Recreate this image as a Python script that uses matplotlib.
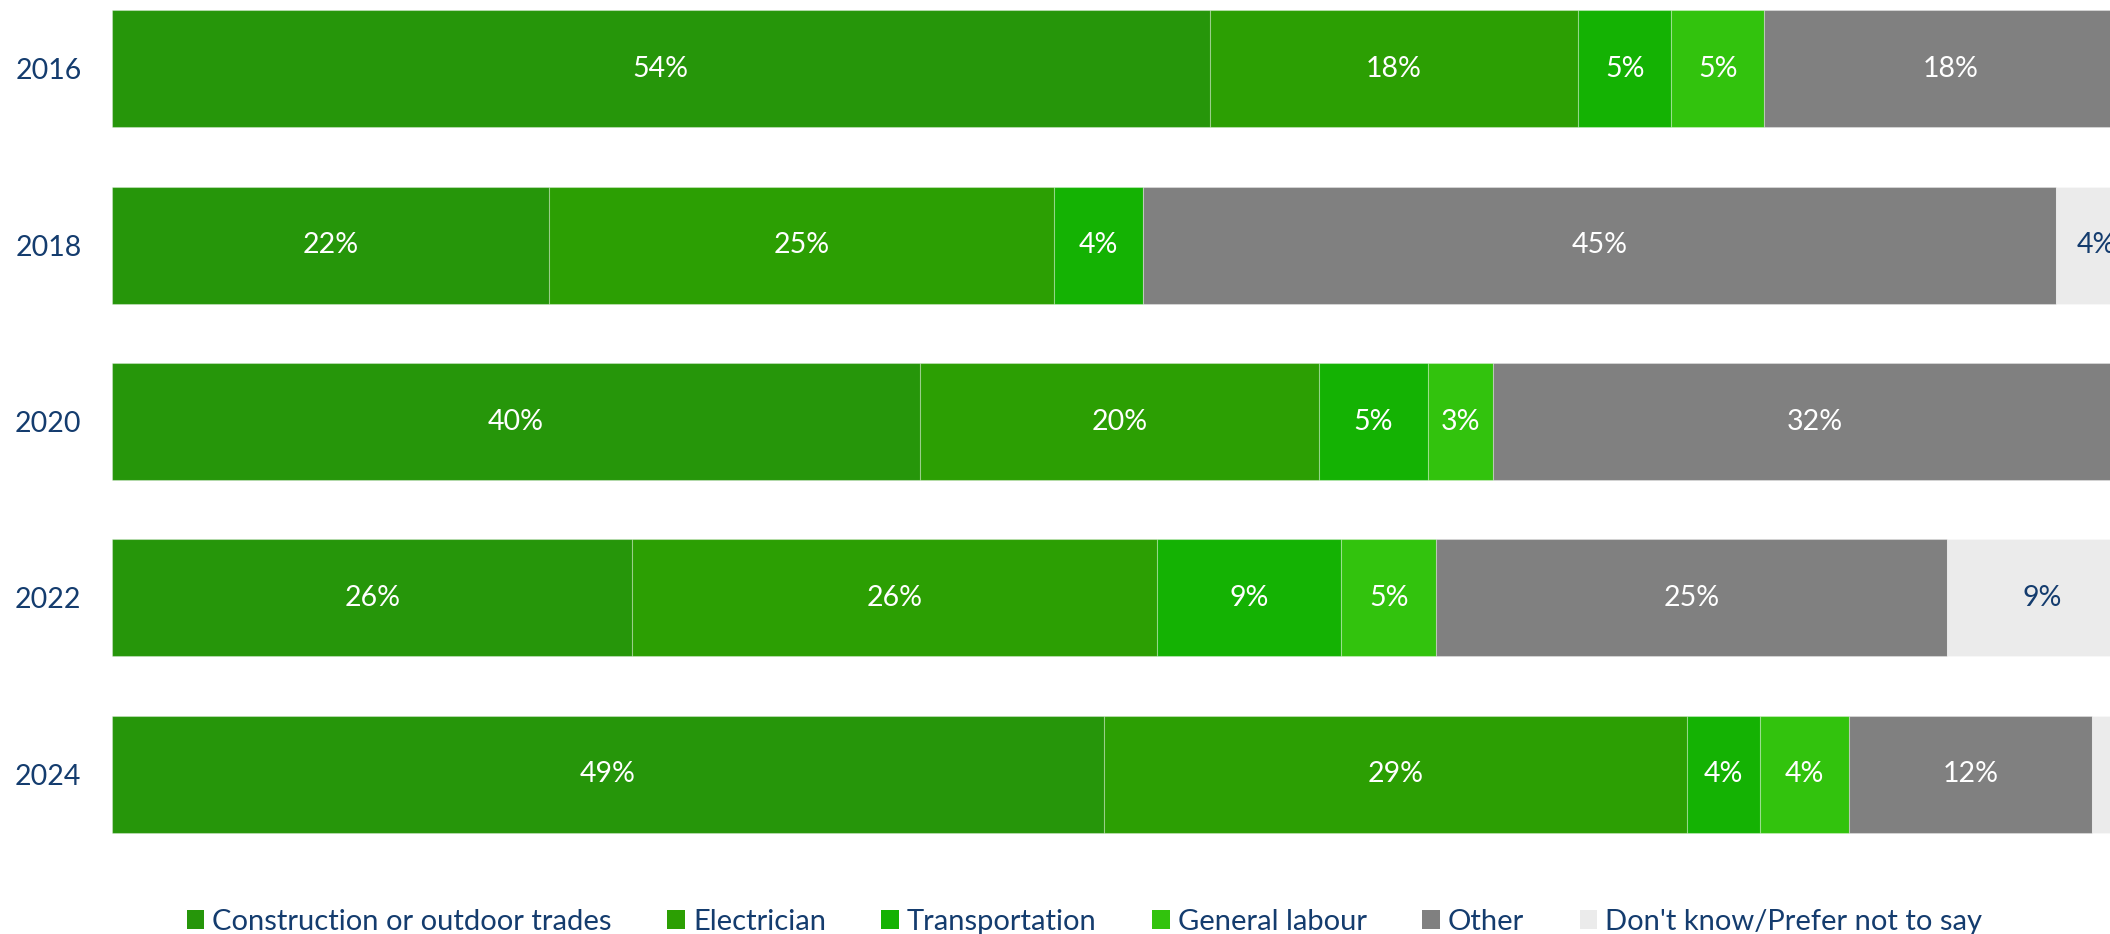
import matplotlib
matplotlib.use('Agg')
import matplotlib.pyplot as plt
from matplotlib.patches import Patch

# Datos de la encuesta (porcentajes por año)
years = ['2016', '2018', '2020', '2022', '2024']
categories = ['Construction or outdoor trades', 'Electrician', 'Transportation',
              'General labour', 'Other', "Don't know/Prefer not to say"]
construction = [54.2, 21.6, 39.9, 25.7, 49.0]
electrician = [18.2, 24.9, 19.7, 25.9, 28.8]
transportation = [4.6, 4.4, 5.4, 9.1, 3.6]
general_labour = [4.6, 0.0, 3.2, 4.7, 4.4]
other = [18.4, 45.1, 31.8, 25.2, 12.0]
dont_know = [0.0, 4.0, 0.0, 9.4, 2.2]

series = [construction, electrician, transportation, general_labour, other, dont_know]
colors = ['#26960A', '#2C9F03', '#14B203', '#32C30D', '#808080', '#EBEBEB']
text_colors = ['white', 'white', 'white', 'white', 'white', '#143C6E']
navy = '#143C6E'

plt.rcParams['font.family'] = ['Lato', 'DejaVu Sans']

fig = plt.figure(figsize=(21.1, 9.34), dpi=100)
# el eje se sale por la derecha, como en la imagen recortada
ax = fig.add_axes([112 / 2110, 74 / 934, 1 - 112 / 2110, 860 / 934])

ypos = list(range(len(years)))
left = [0.0] * len(years)
for vals, col, tcol in zip(series, colors, text_colors):
    ax.barh(ypos, vals, left=left, height=0.664, color=col,
            edgecolor=(1, 1, 1, 0.3), linewidth=0.8)
    for i, v in enumerate(vals):
        if v >= 3:
            ax.text(left[i] + v / 2, ypos[i], f'{v:.0f}%', ha='center', va='center',
                    color=tcol, fontsize=20.5)
    left = [l + v for l, v in zip(left, vals)]

ax.set_xlim(0, 98.67)
ax.set_ylim(4.487, -0.391)
ax.set_yticks(ypos)
ax.set_yticklabels(years, fontsize=20.5, color=navy)
ax.tick_params(axis='y', length=0, pad=22)
ax.set_xticks([])
for s in ax.spines.values():
    s.set_visible(False)

handles = [Patch(facecolor=c, edgecolor='none') for c in colors]
leg = fig.legend(handles, categories, loc='center', bbox_to_anchor=(0.514, 0.013),
                 ncol=6, frameon=False, fontsize=21, handlelength=0.6, handleheight=0.6,
                 handletextpad=0.28, columnspacing=1.9)
for t in leg.get_texts():
    t.set_color(navy)

fig.savefig('out.png', dpi=100)
